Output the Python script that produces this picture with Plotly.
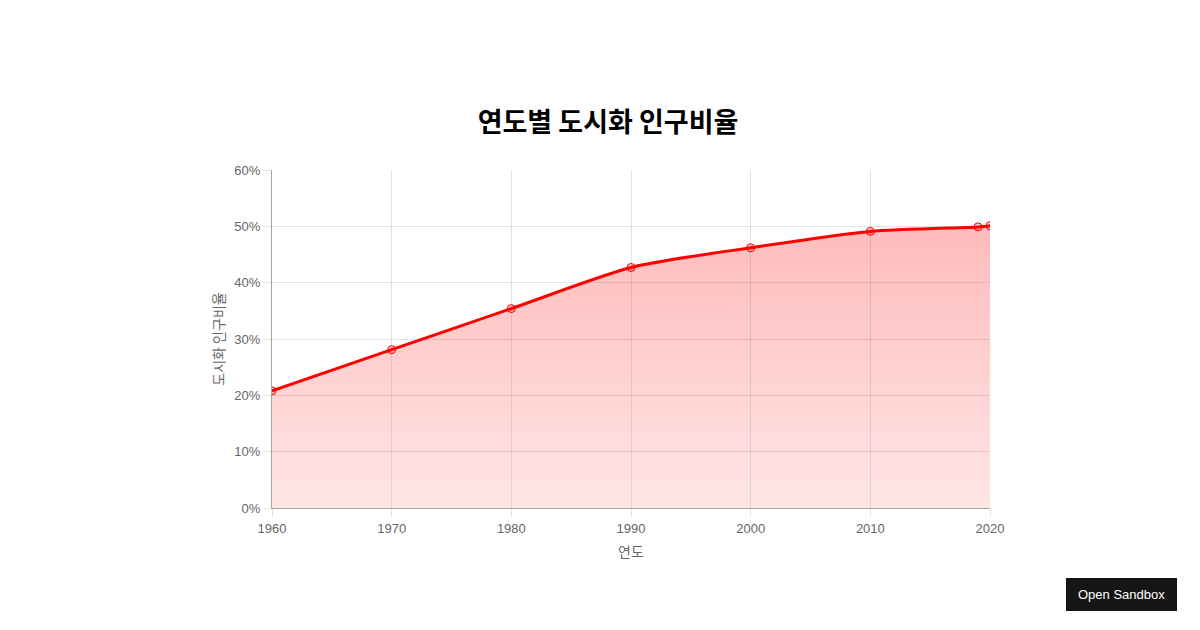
import plotly.graph_objects as go

years = [1960, 1970, 1980, 1990, 2000, 2010, 2019, 2020]
urban_pct = [20.8, 28.1, 35.4, 42.7, 46.2, 49.1, 49.9, 50.1]
y_ticks = [0, 10, 20, 30, 40, 50, 60]
y_tick_labels = ["0%", "10%", "20%", "30%", "40%", "50%", "60%"]
x_ticks = [1960, 1970, 1980, 1990, 2000, 2010, 2020]

title_text = "연도별 도시화 인구비율"
x_title = "연도"
y_title = "도시화 인구비율"

FONT = "Liberation Sans, Arial, Noto Sans CJK KR, sans-serif"
CJK = "Noto Sans CJK KR, Liberation Sans, sans-serif"

# page body has an 8px margin, so layout pixel positions are offset by 8
OFF = 8
L, R, T, B = 272 - OFF, 1200 - 990 + OFF, 170 - OFF, 630 - 508 + OFF
PW, PH = 1200 - L - R, 630 - T - B

fig = go.Figure()
fig.add_trace(go.Scatter(
    x=years, y=urban_pct,
    mode="lines+markers",
    line=dict(color="#ff0000", width=3, shape="spline", smoothing=0.7),
    marker=dict(size=8, color="rgba(255,0,0,0.2)", line=dict(color="#ff0000", width=1)),
    fill="tozeroy",
    fillgradient=dict(type="vertical", start=0, stop=60,
                      colorscale=[[0, "rgba(255,0,0,0.1)"], [1, "rgba(255,0,0,0.3)"]]),
    hoverinfo="x+y",
    showlegend=False,
))

grid = "rgba(0,0,0,0.1)"
axis_line = "rgba(0,0,0,0.35)"

fig.update_layout(
    width=1200, height=630,
    paper_bgcolor="white", plot_bgcolor="white",
    margin=dict(l=L, r=R, t=T, b=B),
    font=dict(family=FONT, size=13, color="#666"),
    title=dict(text=title_text, x=0.5, xanchor="center", y=1 - (123 - OFF) / 630, yanchor="middle",
               font=dict(family=CJK, size=27, color="#000", weight="bold")),
    xaxis=dict(
        range=[1960, 2020], tickvals=x_ticks, ticktext=[str(v) for v in x_ticks],
        showgrid=True, gridcolor=grid, gridwidth=1,
        showline=True, linecolor=axis_line, linewidth=1,
        ticks="outside", ticklen=8, tickcolor=grid,
        zeroline=False, tickfont=dict(size=13, color="#666"),
        title=dict(text=x_title, font=dict(family=CJK, size=14, color="#666"), standoff=12),
    ),
    yaxis=dict(
        range=[0, 60], tickvals=y_ticks, ticktext=y_tick_labels,
        showgrid=True, gridcolor=grid, gridwidth=1,
        showline=True, linecolor=axis_line, linewidth=1,
        ticks="outside", ticklen=8, tickcolor=grid,
        zeroline=False, tickfont=dict(size=13, color="#666"),
        title=dict(text=y_title, font=dict(family=CJK, size=14, color="#666"), standoff=6),
    ),
)

# "Open Sandbox" button (bottom-right overlay), positioned in page pixels
def px_x(px):
    return (px - OFF - L) / PW

def px_y(py):
    return (630 - B - (py - OFF)) / PH

fig.add_shape(type="rect", xref="paper", yref="paper",
              x0=px_x(1066), x1=px_x(1177), y0=px_y(611), y1=px_y(578),
              fillcolor="#151515", line=dict(width=0), layer="above")
fig.add_annotation(xref="paper", yref="paper", x=px_x(1121.5), y=px_y(594.5),
                   text="Open Sandbox", showarrow=False, xanchor="center", yanchor="middle",
                   font=dict(family=FONT, size=13, color="#ffffff"))

fig.write_html("out.html")
